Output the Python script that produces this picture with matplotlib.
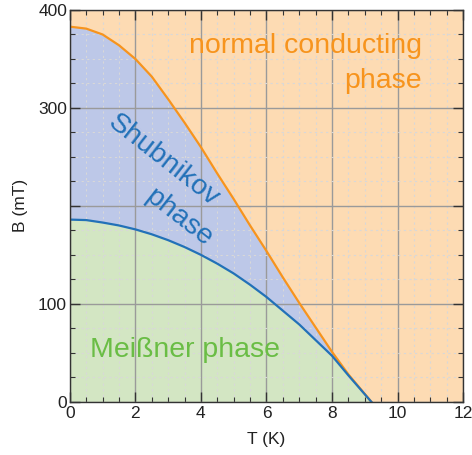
import matplotlib.pyplot as plt
from matplotlib.ticker import MultipleLocator

plt.rcParams['font.family'] = ['Liberation Sans', 'DejaVu Sans']

# upper critical field (orange) and lower critical field (blue)
T_upper = [0, 0.5, 1, 1.5, 2, 2.5, 3, 3.5, 4, 4.5, 5, 5.5, 6, 6.5, 7, 7.5, 8, 8.5, 9.2]
B_upper = [383, 381, 375, 364, 350, 332, 309, 285, 260, 233, 207, 180, 154, 127, 101, 76, 51, 28, 0]
T_lower = [0, 0.5, 1, 1.5, 2, 2.5, 3, 3.5, 4, 4.5, 5, 5.5, 6, 6.5, 7, 7.5, 8, 8.5, 9.2]
B_lower = [186, 185.5, 183, 180, 176, 171, 165, 158, 150, 141, 131, 119.5, 107, 93, 79, 63, 47, 27, 0]

x_ticks = [0, 2, 4, 6, 8, 10, 12]
y_ticks = [0, 100, 200, 300, 400]
y_tick_labels = ['0', '100', '', '300', '400']

ORANGE_FILL = '#fddbb3'
BLUE_FILL = '#bdc8e8'
GREEN_FILL = '#d3e6c3'
ORANGE = '#f7941d'
BLUE = '#2271b8'
GREEN = '#6abd45'

fig = plt.figure(figsize=(4.72, 4.55), dpi=100)
ax = fig.add_axes([0.148, 0.117, 0.833, 0.861])
ax.set_facecolor(ORANGE_FILL)

ax.fill_between(T_upper, B_upper, 0, color=BLUE_FILL, lw=0, zorder=1)
ax.fill_between(T_lower, B_lower, 0, color=GREEN_FILL, lw=0, zorder=1)

ax.set_axisbelow(False)
ax.grid(which='major', color='#9a9a9a', lw=1.0, ls='-')
ax.grid(which='minor', color='#d8d8d8', lw=0.8, ls=(0, (2, 3)))

ax.plot(T_upper, B_upper, color=ORANGE, lw=1.6, zorder=4, solid_joinstyle='round')
ax.plot(T_lower, B_lower, color=BLUE, lw=1.6, zorder=4, solid_joinstyle='round')

ax.set_xlim(0, 12)
ax.set_ylim(0, 400)
ax.set_xticks(x_ticks)
ax.set_yticks(y_ticks)
ax.set_yticklabels(y_tick_labels)
ax.xaxis.set_minor_locator(MultipleLocator(0.5))
ax.yaxis.set_minor_locator(MultipleLocator(25))
ax.tick_params(which='both', direction='in', top=True, right=True,
               color='#333333', labelsize=12.5, labelcolor='#222222')
ax.tick_params(which='major', length=7, width=1)
ax.tick_params(which='minor', length=3.6, width=0.8)
ax.tick_params(axis='x', pad=3)
ax.tick_params(axis='y', pad=2)
for s in ax.spines.values():
    s.set_color('#333333')
    s.set_linewidth(1.0)
    s.set_zorder(5)

ax.set_xlabel('T (K)', fontsize=12.5, color='#222222', labelpad=8)
ax.set_ylabel('B (mT)', fontsize=12.5, color='#222222', labelpad=7)

ax.text(10.74, 356, 'normal conducting', color=ORANGE, fontsize=20.5,
        ha='right', va='baseline', zorder=6)
ax.text(10.74, 320, 'phase', color=ORANGE, fontsize=20.5,
        ha='right', va='baseline', zorder=6)
ax.text(2.85, 246, 'Shubnikov', color=BLUE, fontsize=20.5, rotation=-38,
        rotation_mode='anchor', ha='center', va='center', zorder=6)
ax.text(3.33, 188, 'phase', color=BLUE, fontsize=20.5, rotation=-38,
        rotation_mode='anchor', ha='center', va='center', zorder=6)
ax.text(0.61, 46, 'Meißner phase', color=GREEN, fontsize=20.5,
        ha='left', va='baseline', zorder=6)

fig.savefig('out.png', dpi=100)
